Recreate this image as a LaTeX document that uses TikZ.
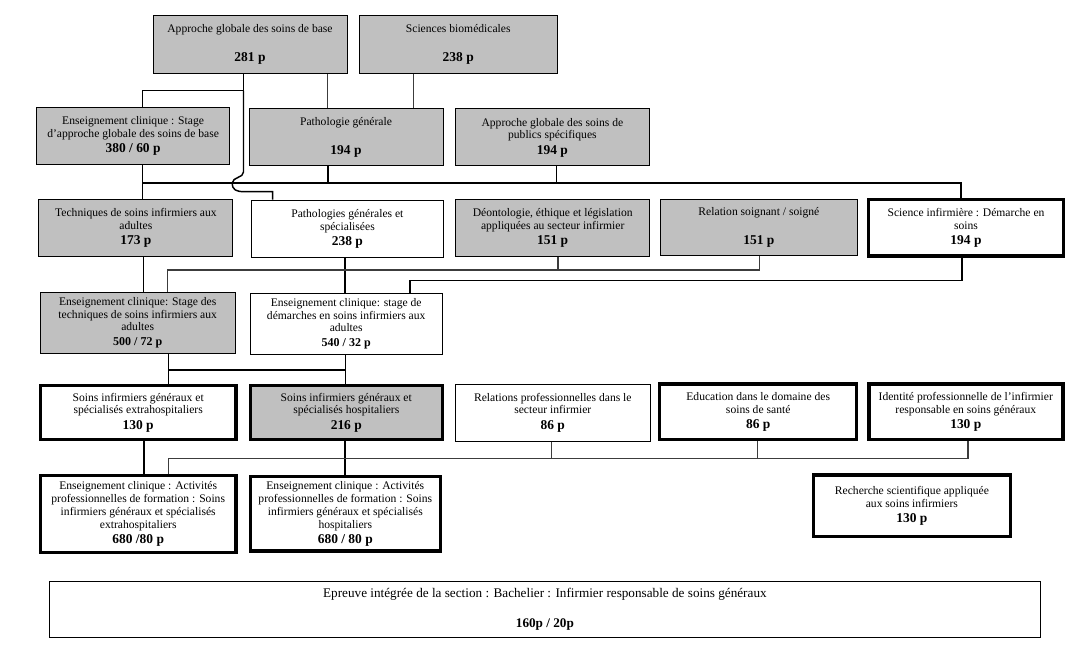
\documentclass[tikz,border=0pt]{standalone}
\usepackage{fontspec}
\setmainfont{Liberation Serif}
\definecolor{boxgray}{RGB}{192,192,192}
\definecolor{lgray}{RGB}{60,60,60}
\newcommand\num[1]{{\fontsize{10.1}{9.6}\selectfont\bfseries #1}}
\newcommand\numd[1]{{\fontsize{9}{9.6}\selectfont\bfseries #1}}
\begin{document}
\begin{tikzpicture}[x=0.75pt,y=-0.75pt,
  box/.style={draw=black, line width=0.75pt, inner sep=0pt, align=center,
    font=\fontsize{8.7}{9.6}\selectfont},
  gbox/.style={box, fill=boxgray},
  tbox/.style={box, line width=2.6pt},
  sz/.style 2 args={minimum width=#1*0.75pt, minimum height=#2*0.75pt},
  conn/.style={line width=1.1pt, black},
  conng/.style={line width=0.9pt, lgray}]
\useasboundingbox[fill=white] (0,0) rectangle (1082,663);

% Row A
\node[gbox, sz={194}{57.5}] (A1) at (250,44.75) {Approche globale des soins de base\\[12pt]\num{281 p}};
\node[gbox, sz={198.5}{57.5}] (A2) at (458.25,44.75) {Sciences biomédicales\\[12pt]\num{238 p}};
% Row B
\node[gbox, sz={193.2}{57}] (B1) at (133.1,135.8) {Enseignement clinique : Stage\\d’approche globale des soins de base\\[1.8pt]\num{380 / 60 p}};
\node[gbox, sz={194}{57}] (B2) at (346,137.5) {Pathologie générale\\[12pt]\num{194 p}};
\node[gbox, sz={193.3}{57}] (B3) at (552.4,137.5) {Approche globale des soins de\\publics spécifiques\\[1.8pt]\num{194 p}};
% Row C
\node[gbox, sz={194}{56.7}] (C1) at (135.9,227.7) {Techniques de soins infirmiers aux\\adultes\\[1.8pt]\num{173 p}};
\node[box, sz={191.3}{57.3}] (C2) at (347.4,228.7) {Pathologies générales et\\spécialisées\\[1.8pt]\num{238 p}};
\node[gbox, sz={194}{56.7}] (C3) at (552.7,227.7) {Déontologie, éthique et législation\\appliquées au secteur infirmier\\[1.8pt]\num{151 p}};
\node[gbox, sz={197.7}{56.3}] (C4) at (758.9,227.8) {Relation soignant / soigné\\[12pt]\num{151 p}};
\node[tbox, sz={194.5}{56.2}] (C5) at (966,227.8) {Science infirmière : Démarche en\\soins\\[1.8pt]\num{194 p}};
% Row D
\node[gbox, sz={195}{61}] (D1) at (137.7,322.8) {Enseignement clinique: Stage des\\techniques de soins infirmiers aux\\adultes\\[1.5pt]\numd{500 / 72 p}};
\node[box, sz={191.8}{61}] (D2) at (346.2,323.8) {Enseignement clinique: stage de\\démarches en soins infirmiers aux\\adultes\\[1.5pt]\numd{540 / 32 p}};
% Row E
\node[tbox, sz={195.2}{53.5}] (E1) at (138.2,412.5) {Soins infirmiers généraux et\\spécialisés extrahospitaliers\\[1.8pt]\num{130 p}};
\node[tbox, fill=boxgray, sz={191.9}{53.5}] (E2) at (346.3,412.5) {Soins infirmiers généraux et\\spécialisés hospitaliers\\[1.8pt]\num{216 p}};
\node[box, sz={194.4}{57}] (E3) at (552.8,412.5) {Relations professionnelles dans le\\secteur infirmier\\[1.8pt]\num{86 p}};
\node[tbox, sz={197}{55.2}] (E4) at (758.2,411.7) {Education dans le domaine des\\soins de santé\\[1.8pt]\num{86 p}};
\node[tbox, sz={194}{55.2}] (E5) at (965.8,411.7) {Identité professionnelle de l’infirmier\\responsable en soins généraux\\[1.8pt]\num{130 p}};
% Row F
\node[tbox, sz={195.2}{76.5}] (F1) at (138.2,514) {Enseignement clinique : Activités\\professionnelles de formation : Soins\\infirmiers généraux et spécialisés\\extrahospitaliers\\[1.8pt]\num{680 /80 p}};
\node[tbox, sz={189.9}{74.2}] (F2) at (345.3,513.8) {Enseignement clinique : Activités\\professionnelles de formation : Soins\\infirmiers généraux et spécialisés\\hospitaliers\\[1.8pt]\num{680 / 80 p}};
\node[tbox, sz={196.7}{61.5}] (F3) at (911.9,505.8) {Recherche scientifique appliquée\\aux soins infirmiers\\[1.8pt]\num{130 p}};
% Row G
\node[box, sz={990.3}{56}, font=\fontsize{9.9}{11}\selectfont] (G) at (544.9,609.3) {Epreuve intégrée de la section : Bachelier : Infirmier responsable de soins généraux\\[11pt]{\bfseries 160p / 20p}};

% ---- connectors A -> B
\coordinate (jA) at (243.5,90.7);
\coordinate (xB1) at (142.6,0);
\coordinate (xA1b) at (327.8,0);
\coordinate (xA2) at (413.2,0);
\coordinate (xC2) at (272.7,0);
\draw[conn] (A1.south -| jA) -- (jA) -- (jA -| xB1) -- (B1.north -| xB1);
\draw[conng] (A1.south -| xA1b) -- (B2.north -| xA1b);
\draw[conng] (A2.south -| xA2) -- (B2.north -| xA2);
% hop line A1 -> C2
\draw[conn] (jA) -- (243.5,172) .. controls (243.5,178) and (232.3,177) .. (232.3,183)
  .. controls (232.3,190) and (236,191.7) .. (245,191.7) -- (272.7,191.7) -- (C2.north -| xC2);
% ---- B -> C
\coordinate (h1L) at (142.6,183);
\coordinate (h1R) at (961,183);
\coordinate (xB3) at (556.6,0);
\draw[conn] (B1.south -| h1L) -- (C1.north -| h1L);
\draw[conn] (h1L) -- (h1R) -- (C5.north -| h1R);
\draw[conn] (B2.south -| xA1b) -- (xA1b |- h1L);
\draw[conn] (B3.south -| xB3) -- (xB3 |- h1L);
% ---- C -> D
\coordinate (xC1) at (143.3,0);
\coordinate (xC2d) at (345,0);
\coordinate (u1L) at (167.7,270);
\coordinate (u1R) at (759.4,270);
\coordinate (xC3) at (558,0);
\coordinate (l1L) at (410,280.7);
\coordinate (l1R) at (962,280.7);
\draw[conn] (C1.south -| xC1) -- (D1.north -| xC1);
\draw[conn] (C2.south -| xC2d) -- (D2.north -| xC2d);
\draw[conng] (C4.south -| u1R) -- (u1R) -- (u1L) -- (D1.north -| u1L);
\draw[conng] (C3.south -| xC3) -- (xC3 |- u1L);
\draw[conn] (C5.south -| l1R) -- (l1R) -- (l1L) -- (D2.north -| l1L);
% ---- D -> E
\coordinate (dL) at (168.3,370);
\coordinate (dR) at (345.7,370);
\draw[conn] (D1.south -| dL) -- (E1.north -| dL);
\draw[conn] (D2.south -| dR) -- (E2.north -| dR);
\draw[conn] (dL) -- (dR);
% ---- E -> F
\coordinate (xE1) at (144,0);
\coordinate (xE2) at (345,0);
\coordinate (fL) at (168.7,458.3);
\coordinate (fR) at (968,458.3);
\coordinate (xE3) at (551.4,0);
\coordinate (xE4) at (757.4,0);
\draw[conn] (E1.south -| xE1) -- (F1.north -| xE1);
\draw[conn] (E2.south -| xE2) -- (F2.north -| xE2);
\draw[conng] (E5.south -| fR) -- (fR) -- (fL) -- (F1.north -| fL);
\draw[conng] (E3.south -| xE3) -- (xE3 |- fL);
\draw[conng] (E4.south -| xE4) -- (xE4 |- fL);
\end{tikzpicture}
\end{document}
